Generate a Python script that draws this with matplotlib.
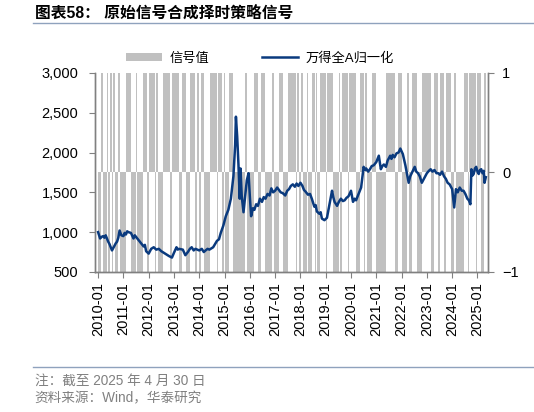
import numpy as np
import matplotlib
matplotlib.use("Agg")
import matplotlib.pyplot as plt
from matplotlib.lines import Line2D
from matplotlib.patches import Patch

plt.rcParams['font.family'] = ['Liberation Sans', 'Noto Sans CJK SC', 'DejaVu Sans']

# 万得全A归一化 (decimal year, value)
idx_year = [2010.00, 2010.04, 2010.08, 2010.14, 2010.20, 2010.25, 2010.30, 2010.35, 2010.40, 2010.45,
            2010.50, 2010.55, 2010.60, 2010.65, 2010.70, 2010.75, 2010.80, 2010.85, 2010.92, 2011.00,
            2011.05, 2011.10, 2011.15, 2011.20, 2011.30, 2011.40, 2011.45, 2011.50, 2011.60, 2011.70,
            2011.80, 2011.85, 2011.90, 2012.00, 2012.05, 2012.10, 2012.20, 2012.30, 2012.40, 2012.50,
            2012.60, 2012.70, 2012.80, 2012.92, 2013.00, 2013.10, 2013.15, 2013.20, 2013.35, 2013.45,
            2013.55, 2013.63, 2013.70, 2013.78, 2013.85, 2014.00, 2014.10, 2014.18, 2014.25, 2014.33,
            2014.40, 2014.55, 2014.70, 2014.78, 2014.85, 2014.95, 2015.05, 2015.15, 2015.25, 2015.35,
            2015.42, 2015.45, 2015.50, 2015.55, 2015.60, 2015.63, 2015.68, 2015.75, 2015.80, 2015.88,
            2015.95, 2016.00, 2016.05, 2016.12, 2016.18, 2016.25, 2016.32, 2016.40, 2016.48, 2016.55,
            2016.62, 2016.70, 2016.78, 2016.85, 2016.92, 2017.00, 2017.08, 2017.15, 2017.22, 2017.30,
            2017.40, 2017.48, 2017.55, 2017.62, 2017.70, 2017.78, 2017.85, 2017.92, 2018.00, 2018.08,
            2018.14, 2018.20, 2018.30, 2018.38, 2018.45, 2018.55, 2018.60, 2018.65, 2018.75, 2018.80,
            2018.85, 2018.95, 2019.05, 2019.15, 2019.25, 2019.30, 2019.35, 2019.45, 2019.52, 2019.60,
            2019.68, 2019.75, 2019.82, 2019.90, 2020.00, 2020.08, 2020.14, 2020.20, 2020.30, 2020.40,
            2020.50, 2020.55, 2020.60, 2020.68, 2020.75, 2020.82, 2020.90, 2021.00, 2021.10, 2021.18,
            2021.24, 2021.30, 2021.38, 2021.45, 2021.55, 2021.60, 2021.65, 2021.72, 2021.80, 2021.88,
            2021.95, 2022.05, 2022.15, 2022.28, 2022.34, 2022.40, 2022.52, 2022.58, 2022.65, 2022.72,
            2022.80, 2022.90, 2023.00, 2023.08, 2023.15, 2023.22, 2023.30, 2023.38, 2023.45, 2023.52,
            2023.60, 2023.68, 2023.75, 2023.82, 2023.90, 2024.00, 2024.08, 2024.15, 2024.22, 2024.30,
            2024.38, 2024.45, 2024.52, 2024.60, 2024.66, 2024.72, 2024.76, 2024.80, 2024.85, 2024.90,
            2024.95, 2025.00, 2025.05, 2025.10, 2025.15, 2025.20, 2025.25, 2025.28, 2025.33]
idx_value = [1000, 960, 920, 940, 950, 930, 960, 920, 880, 850,
             810, 770, 800, 830, 860, 880, 930, 1020, 960, 950,
             990, 970, 1010, 1000, 990, 920, 960, 940, 900, 860,
             820, 840, 760, 730, 760, 790, 810, 780, 790, 760,
             740, 720, 700, 680, 740, 810, 780, 790, 780, 710,
             750, 790, 810, 770, 790, 770, 790, 750, 770, 790,
             780, 810, 890, 910, 990, 1080, 1200, 1280, 1420, 1700,
             2100, 2450, 2200, 1850, 1420, 1800, 1450, 1250, 1400, 1650,
             1740, 1450, 1200, 1300, 1280, 1350, 1330, 1420, 1380, 1440,
             1420, 1480, 1460, 1550, 1500, 1520, 1560, 1530, 1500, 1490,
             1460, 1520, 1540, 1580, 1600, 1570, 1610, 1580, 1620, 1580,
             1530, 1510, 1470, 1480, 1420, 1320, 1340, 1260, 1230, 1250,
             1170, 1150, 1180, 1350, 1520, 1440, 1380, 1330, 1380, 1420,
             1390, 1400, 1430, 1450, 1520, 1380, 1420, 1400, 1480, 1560,
             1820, 1780, 1800, 1760, 1790, 1830, 1840, 1880, 1960, 1790,
             1830, 1850, 1820, 1900, 1960, 1920, 1970, 1940, 1990, 2000,
             2050, 1980, 1840, 1620, 1700, 1740, 1820, 1760, 1740, 1700,
             1620, 1680, 1740, 1770, 1790, 1760, 1780, 1740, 1740, 1720,
             1760, 1700, 1670, 1620, 1600, 1540, 1310, 1540, 1500, 1560,
             1520, 1520, 1480, 1420, 1400, 1350, 1790, 1710, 1730, 1800,
             1820, 1760, 1730, 1780, 1790, 1740, 1770, 1620, 1690]

# periods where the signal is +1 (start, end in decimal years); -1 otherwise
long_start = [2010.105, 2010.34, 2010.46, 2010.57, 2010.76, 2011.11, 2011.49, 2011.77, 2012.00, 2012.30,
              2012.57, 2012.92, 2013.29, 2013.60, 2013.90, 2014.06, 2014.43, 2014.72, 2014.95, 2015.19,
              2015.80, 2016.17, 2016.43, 2016.85, 2017.13, 2017.51, 2017.88, 2018.01, 2018.25, 2018.46,
              2018.60, 2018.77, 2019.04, 2019.50, 2019.62, 2019.92, 2020.34, 2020.55, 2020.84, 2021.37,
              2021.83, 2022.20, 2022.42, 2022.82, 2023.04, 2023.25, 2023.51, 2023.74, 2024.07, 2024.47,
              2024.66, 2024.99, 2025.26]
long_end = [2010.198, 2010.40, 2010.53, 2010.66, 2010.86, 2011.30, 2011.55, 2011.91, 2012.24, 2012.37,
            2012.81, 2013.19, 2013.45, 2013.83, 2013.98, 2014.19, 2014.68, 2014.90, 2015.01, 2015.31,
            2015.90, 2016.32, 2016.59, 2016.96, 2017.32, 2017.79, 2017.93, 2018.11, 2018.30, 2018.54,
            2018.67, 2019.00, 2019.26, 2019.57, 2019.85, 2020.20, 2020.51, 2020.62, 2020.98, 2021.74,
            2021.99, 2022.29, 2022.59, 2023.02, 2023.15, 2023.41, 2023.68, 2023.96, 2024.15, 2024.60,
            2024.93, 2025.13, 2025.33]

years = list(range(2010, 2026))
year_labels = [f"{y}-01" for y in years]

# weekly signal series
weeks = np.arange(2010.0, 2025.33, 1 / 52)
signal = -np.ones_like(weeks)
for s, e in zip(long_start, long_end):
    signal[(weeks >= s) & (weeks < e)] = 1

fig = plt.figure(figsize=(5.34, 4.12), dpi=100)
ax = fig.add_axes([0.178, 0.340, 0.736, 0.483])

gray = '#808080'
ax.bar(weeks, signal, width=1 / 52, align='edge', color='#c0c0c0', linewidth=0)
ax.set_ylim(-1, 1)
ax.set_xlim(2009.88, 2025.42)
ax.set_xticks(years)
ax.set_xticklabels(year_labels, rotation=90)

ax2 = ax.twinx()
ax2.plot(idx_year, idx_value, color='#0a3a7e', linewidth=1.8)
ax2.set_ylim(500, 3000)
ax2.set_yticks(range(500, 3001, 500))
ax2.set_yticklabels([f"{v:,}" for v in range(500, 3001, 500)])
ax2.yaxis.tick_left()
ax.yaxis.tick_right()
ax.set_yticks([-1, 0, 1])

for a in (ax, ax2):
    a.spines['top'].set_visible(False)
    for sp in ('left', 'right', 'bottom'):
        a.spines[sp].set_color(gray)
        a.spines[sp].set_linewidth(1.0)
    a.tick_params(direction='out', length=4, color=gray, labelsize=10.5, labelcolor='black')
ax.tick_params(axis='y', pad=6)
ax2.tick_params(axis='y', pad=8)

handles = [Patch(facecolor='#c0c0c0', edgecolor='none'),
           Line2D([0], [0], color='#0a3a7e', linewidth=1.8)]
fig.legend(handles, ['信号值', '万得全A归一化'], loc='center', bbox_to_anchor=(0.487, 0.858),
           ncol=2, frameon=False, fontsize=9.5, handlelength=2.7, handleheight=0.6,
           columnspacing=4.0, handletextpad=0.6)

fig.text(0.065, 0.967, '图表58： 原始信号合成择时策略信号', fontsize=11.3, fontweight='bold',
         ha='left', va='center')
fig.add_artist(Line2D([0.062, 1.0], [0.944, 0.944], color='#8fa2bd', linewidth=1.0))
fig.add_artist(Line2D([0.062, 1.0], [0.109, 0.109], color='#8fa2bd', linewidth=1.0))
fig.text(0.065, 0.077, '注：截至 2025 年 4 月 30 日', fontsize=9.8, color=gray, ha='left', va='center')
fig.text(0.065, 0.034, '资料来源：Wind，华泰研究', fontsize=9.8, color=gray, ha='left', va='center')

fig.savefig('out.png', dpi=100)
